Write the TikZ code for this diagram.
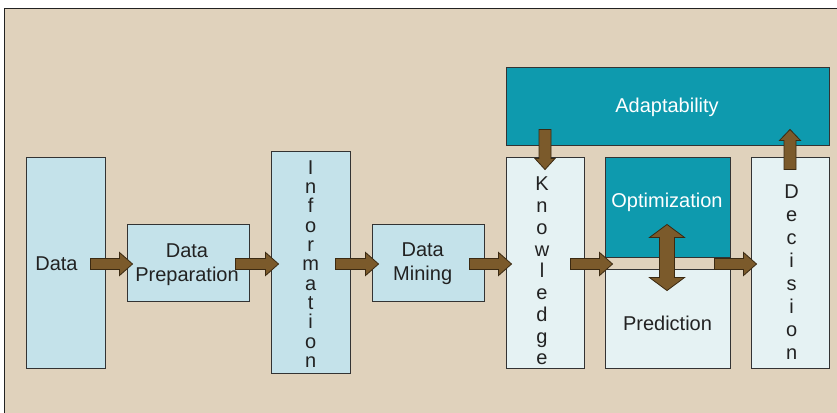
\documentclass[tikz,border=0pt]{standalone}
\usepackage{fontspec}
\setmainfont{Liberation Sans}
\usetikzlibrary{calc}
\definecolor{bgbeige}{HTML}{E0D2BC}
\definecolor{lightblue}{HTML}{C4E2EA}
\definecolor{paleblue}{HTML}{E5F2F3}
\definecolor{teal}{HTML}{0E9AAE}
\definecolor{arrowbrown}{HTML}{7B5A2B}
\definecolor{arrowedge}{HTML}{3B2A12}
\definecolor{boxedge}{HTML}{333333}
\definecolor{txt}{HTML}{222222}

% block arrow from #1 to tip #2; half shaft #3, half head #4, head length #5
\newcommand\blockarrow[5]{%
  \coordinate (ba-s) at #1;
  \coordinate (ba-t) at #2;
  \coordinate (ba-n) at ($(ba-t)!#5!(ba-s)$);
  \filldraw[arrowfill] ($(ba-s)!#3!90:(ba-t)$) -- ($(ba-n)!#3!90:(ba-t)$)
    -- ($(ba-n)!#4!90:(ba-t)$) -- (ba-t) -- ($(ba-n)!#4!-90:(ba-t)$)
    -- ($(ba-n)!#3!-90:(ba-t)$) -- ($(ba-s)!#3!-90:(ba-t)$) -- cycle;}
% double-headed block arrow between #1 and #2
\newcommand\doublearrow[5]{%
  \coordinate (da-a) at #1;
  \coordinate (da-b) at #2;
  \coordinate (da-n1) at ($(da-a)!#5!(da-b)$);
  \coordinate (da-n2) at ($(da-b)!#5!(da-a)$);
  \filldraw[arrowfill] (da-a) -- ($(da-n1)!#4!90:(da-b)$) -- ($(da-n1)!#3!90:(da-b)$)
    -- ($(da-n2)!#3!-90:(da-a)$) -- ($(da-n2)!#4!-90:(da-a)$) -- (da-b)
    -- ($(da-n2)!#4!90:(da-a)$) -- ($(da-n2)!#3!90:(da-a)$)
    -- ($(da-n1)!#3!-90:(da-b)$) -- ($(da-n1)!#4!-90:(da-b)$) -- cycle;}

\begin{document}
\begin{tikzpicture}[x=1pt,y=-1pt,
  box/.style={draw=boxedge, line width=0.9pt, inner sep=0pt},
  bluebox/.style={box, fill=lightblue},
  palebox/.style={box, fill=paleblue},
  tealbox/.style={box, fill=teal},
  label/.style={font=\fontsize{20}{24}\selectfont, text=txt, align=center, inner sep=0pt},
  whitelabel/.style={label, text=white},
  arrowfill/.style={fill=arrowbrown, draw=arrowedge, line width=0.8pt, line join=miter}]
\useasboundingbox (0,0) rectangle (837,412);
\fill[white] (0,0) rectangle (837,412);
\filldraw[fill=bgbeige, draw=txt, line width=1pt] (4,9) rectangle (845,420);

% boxes
\node[bluebox, minimum width=79, minimum height=211] (data) at (65.5,262.5) {};
\node[bluebox, minimum width=122, minimum height=77] (prep) at (188,262.5) {};
\node[bluebox, minimum width=79, minimum height=222] (info) at (310.5,262) {};
\node[bluebox, minimum width=112, minimum height=77] (mining) at (428,262.5) {};
\node[palebox, minimum width=78, minimum height=211] (know) at (545,262.5) {};
\node[tealbox, minimum width=323, minimum height=78] (adapt) at (667.5,106) {};
\node[tealbox, minimum width=125, minimum height=100] (optim) at (667.5,207) {};
\node[palebox, minimum width=125, minimum height=99] (pred) at (667.5,318.5) {};
\node[palebox, minimum width=78, minimum height=211] (decis) at (790,262.5) {};

% labels
\node[label] (datatext) at (56.5,263.5) {Data};
\node[label] (preptext) at (187,264.5) {Data\\Preparation};
\node[label] (miningtext) at (422.7,264) {Data\\Mining};
\node[whitelabel] (adapttext) at (667,107) {Adaptability};
\node[whitelabel] (optimtext) at (667,202) {Optimization};
\node[label] (predtext) at (667.5,323) {Prediction};
\node[label, font=\fontsize{20}{19.3}\selectfont] (infotext) at (310.7,264)
  {I\\n\\f\\o\\r\\m\\a\\t\\i\\o\\n};
\node[label, font=\fontsize{20}{21.75}\selectfont] (knowtext) at (542,271)
  {K\\n\\o\\w\\l\\e\\d\\g\\e};
\node[label, font=\fontsize{20}{22.9}\selectfont] (decistext) at (791.7,272)
  {D\\e\\c\\i\\s\\i\\o\\n};

% flow arrows
\blockarrow{($(data.east)+(-15,1.5)$)}{($(prep.west)+(6,1.5)$)}{5.5pt}{11.5pt}{13pt}
\blockarrow{($(prep.east)+(-14,1.5)$)}{($(info.west|-prep.east)+(8,1.5)$)}{5.5pt}{11.5pt}{13pt}
\blockarrow{($(info.east|-mining.west)+(-15,1.5)$)}{($(mining.west)+(7,1.5)$)}{5.5pt}{11.5pt}{13pt}
\blockarrow{($(mining.east)+(-15,1.5)$)}{($(know.west)+(6,1.5)$)}{5.5pt}{11.5pt}{13pt}
\blockarrow{($(know.east)+(-14,1.5)$)}{($(pred.west|-know.east)+(8,1.5)$)}{5.5pt}{11.5pt}{13pt}
\blockarrow{($(pred.east|-decis.west)+(-16,1.5)$)}{($(decis.west)+(6,1.5)$)}{5.5pt}{11.5pt}{13pt}
\blockarrow{($(know.north|-adapt.south)+(0,-16)$)}{($(know.north)+(0,13)$)}{6pt}{10pt}{11pt}
\blockarrow{($(decis.north)+(0,13)$)}{($(decis.north|-adapt.south)+(0,-16)$)}{6pt}{10.5pt}{11pt}
\doublearrow{($(optim.south)+(-0.5,-33)$)}{($(pred.north)+(-0.5,22)$)}{7.5pt}{17.5pt}{13pt}
\end{tikzpicture}
\end{document}
